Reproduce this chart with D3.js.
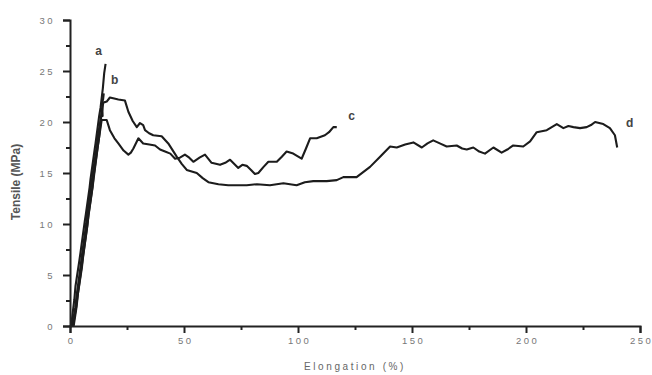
<!DOCTYPE html>
<html>
<head>
<meta charset="utf-8">
<script src="https://cdn.jsdelivr.net/npm/d3@7/dist/d3.min.js"></script>
<style>
  html, body { margin: 0; padding: 0; background: #fff; }
  svg { display: block; }
</style>
</head>
<body>
<svg id="chart" width="652" height="375"></svg>
<script>
// ---- data ----
const xTicks = [0, 50, 100, 150, 200, 250];
const yTicks = [0, 5, 10, 15, 20, 25, 30];

const aElong = [0.5, 1.9, 2.4, 4.1, 4.6, 6.5, 6.9, 8.6, 9.0, 10.8, 11.2, 12.8, 13.4, 14.4, 15.0, 15.6];
const aTens  = [0, 2.6, 3.9, 6.4, 7.2, 10.3, 10.9, 13.6, 14.4, 17.3, 17.9, 20.6, 21.4, 23.3, 24.8, 25.7];

const bElong = [1.6, 2.9, 3.5, 5.2, 5.8, 7.6, 8.1, 9.9, 10.3, 12.1, 12.7, 13.6, 14.0, 14.3, 14.1, 14.5, 14.8];
const bTens  = [0, 1.9, 3.2, 5.7, 6.9, 9.8, 10.9, 13.7, 14.6, 17.5, 18.4, 20.3, 21.3, 20.6, 21.9, 22.2, 22.8];

const cElong = [1.3, 2.6, 3.3, 5.1, 5.7, 7.6, 8.1, 9.9, 10.4, 12.2, 13.9, 16.1, 17.5, 19.5, 21.2, 23.5, 25.6, 26.7, 27.8, 30.0, 32.1, 34.8, 37.3, 39.5, 41.7, 44.0, 46.1, 48.2, 50.4, 52.3, 54.1, 56.8, 59.2, 62.1, 65.8, 68.1, 70.2, 73.8, 75.6, 77.5, 79.4, 81.1, 82.6, 84.9, 87.0, 90.7, 92.9, 95.0, 97.9, 101.6, 103.5, 105.3, 108.2, 111.8, 113.6, 115.5, 117.0];
const cTens  = [0, 1.7, 2.9, 5.8, 6.8, 9.9, 10.8, 13.6, 14.5, 17.6, 20.2, 20.2, 19.2, 18.4, 17.9, 17.2, 16.8, 17.0, 17.4, 18.4, 17.9, 17.8, 17.7, 17.3, 17.1, 16.9, 16.4, 16.5, 16.8, 16.5, 16.1, 16.5, 16.8, 16.0, 15.8, 16.0, 16.3, 15.5, 15.8, 15.7, 15.3, 14.9, 15.0, 15.6, 16.1, 16.1, 16.6, 17.1, 16.9, 16.4, 17.4, 18.4, 18.4, 18.7, 19.0, 19.5, 19.5];

const dElong = [1.0, 2.3, 2.9, 4.6, 5.2, 7.1, 7.5, 9.4, 9.9, 11.7, 12.2, 13.7, 14.6, 16.1, 17.5, 19.4, 21.2, 24.1, 25.6, 27.5, 29.3, 30.7, 32.1, 32.9, 34.7, 36.5, 40.2, 43.1, 46.8, 49.0, 51.2, 55.6, 58.2, 60.7, 65.1, 69.4, 77.5, 82.0, 87.7, 93.6, 99.4, 103.0, 106.7, 112.6, 117.0, 119.9, 125.7, 131.6, 136.0, 140.4, 143.3, 147.0, 150.6, 154.3, 156.8, 159.3, 162.2, 165.2, 169.6, 172.0, 174.0, 176.9, 179.5, 182.0, 185.7, 189.3, 191.8, 194.4, 198.8, 201.8, 204.7, 209.1, 211.3, 213.5, 216.4, 218.6, 220.8, 223.7, 226.6, 228.5, 230.3, 233.9, 236.8, 239.0, 240.0];
const dTens  = [0, 1.8, 3.0, 5.8, 6.9, 10.0, 11.0, 14.0, 14.8, 17.6, 18.6, 20.6, 21.9, 22.0, 22.4, 22.3, 22.2, 22.1, 21.0, 20.1, 19.5, 19.9, 19.7, 19.2, 18.9, 18.7, 18.6, 17.9, 16.6, 15.9, 15.3, 15.0, 14.5, 14.1, 13.9, 13.8, 13.8, 13.9, 13.8, 14.0, 13.8, 14.1, 14.2, 14.2, 14.3, 14.6, 14.6, 15.6, 16.6, 17.6, 17.5, 17.8, 18.0, 17.5, 17.9, 18.2, 17.9, 17.6, 17.7, 17.4, 17.3, 17.5, 17.1, 16.9, 17.5, 17.0, 17.3, 17.7, 17.6, 18.1, 19.0, 19.2, 19.5, 19.8, 19.4, 19.6, 19.5, 19.4, 19.5, 19.7, 20.0, 19.8, 19.4, 18.7, 17.5];

const curveNames = ["a", "b", "c", "d"];
const labelElong = [12.5, 19.6, 123.5, 245.5];
const labelTens  = [26.9, 24.0, 20.5, 19.8];

const xTitle = "Elongation (%)";
const yTitle = "Tensile (MPa)";

// ---- drawing ----
const svg = d3.select("#chart");
const x = d3.scaleLinear().domain([0, 250]).range([70, 640]);
const y = d3.scaleLinear().domain([0, 30]).range([326, 20]);

const series = [
  d3.zip(aElong, aTens),
  d3.zip(bElong, bTens),
  d3.zip(cElong, cTens),
  d3.zip(dElong, dTens)
];

const line = d3.line().x(d => x(d[0])).y(d => y(d[1]));

svg.append("g").selectAll("path")
  .data(series)
  .join("path")
  .attr("d", line)
  .attr("fill", "none")
  .attr("stroke", "#1c1c1c")
  .attr("stroke-width", 2.1)
  .attr("stroke-linejoin", "round");

// axes
const tickFont = g => g.selectAll("text")
  .attr("font-family", "Liberation Sans, Arial, sans-serif")
  .attr("font-size", 9.5)
  .attr("fill", "#777")
  .style("letter-spacing", "2.5px");

const xMinor = d3.range(25, 250, 50);
const yMinor = d3.range(2.5, 30, 5);

const xAxis = svg.append("g").attr("transform", `translate(0,${y(0)})`)
  .call(d3.axisBottom(x).tickValues(xTicks).tickSize(7).tickPadding(4).tickFormat(d3.format("d")));
xAxis.call(tickFont);
xAxis.select(".domain").attr("stroke", "#222").attr("stroke-width", 2);
xAxis.selectAll(".tick line").attr("stroke", "#222").attr("stroke-width", 2);
xAxis.selectAll(".tick text").attr("dx", "1.2px");

const xAxisMinor = svg.append("g").attr("transform", `translate(0,${y(0)})`)
  .call(d3.axisBottom(x).tickValues(xMinor).tickSize(4).tickFormat(""));
xAxisMinor.select(".domain").remove();
xAxisMinor.selectAll(".tick line").attr("stroke", "#222").attr("stroke-width", 2);

const yAxis = svg.append("g").attr("transform", `translate(${x(0)},0)`)
  .call(d3.axisLeft(y).tickValues(yTicks).tickSize(7).tickPadding(8).tickFormat(d3.format("d")));
yAxis.call(tickFont);
yAxis.select(".domain").attr("stroke", "#222").attr("stroke-width", 2);
yAxis.selectAll(".tick line").attr("stroke", "#222").attr("stroke-width", 2);

const yAxisMinor = svg.append("g").attr("transform", `translate(${x(0)},0)`)
  .call(d3.axisLeft(y).tickValues(yMinor).tickSize(4).tickFormat(""));
yAxisMinor.select(".domain").remove();
yAxisMinor.selectAll(".tick line").attr("stroke", "#222").attr("stroke-width", 2);

// curve labels
svg.append("g").selectAll("text")
  .data(curveNames)
  .join("text")
  .attr("x", (d, i) => x(labelElong[i]))
  .attr("y", (d, i) => y(labelTens[i]))
  .attr("text-anchor", "middle")
  .attr("dominant-baseline", "middle")
  .attr("font-family", "Liberation Sans, Arial, sans-serif")
  .attr("font-size", 12)
  .attr("font-weight", "bold")
  .attr("fill", "#444")
  .text(d => d);

// axis titles
svg.append("text")
  .attr("x", 355)
  .attr("y", 367)
  .attr("text-anchor", "middle")
  .attr("dominant-baseline", "middle")
  .attr("font-family", "Liberation Sans, Arial, sans-serif")
  .attr("font-size", 10)
  .attr("fill", "#666")
  .style("letter-spacing", "2.6px")
  .text(xTitle);

svg.append("text")
  .attr("transform", "translate(17,182) rotate(-90)")
  .attr("text-anchor", "middle")
  .attr("dominant-baseline", "middle")
  .attr("font-family", "Liberation Sans, Arial, sans-serif")
  .attr("font-size", 12)
  .attr("font-weight", "bold")
  .attr("fill", "#555")
  .text(yTitle);
</script>
</body>
</html>
